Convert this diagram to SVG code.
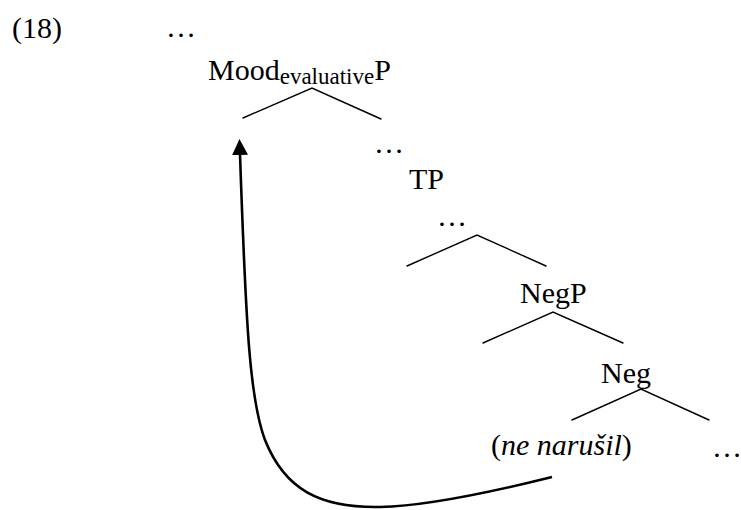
<svg xmlns="http://www.w3.org/2000/svg" width="741" height="510" viewBox="0 0 741 510">
<style>
text{font-family:"Liberation Serif","Times New Roman",serif;font-size:30px;fill:#000}
.br{stroke:#000;stroke-width:1.4;fill:none;stroke-linecap:round}
.mv{stroke:#000;stroke-width:2.6;fill:none}
</style>
<defs>
<marker id="ah" markerUnits="userSpaceOnUse" viewBox="0 0 16 16" refX="1" refY="8" markerWidth="16" markerHeight="16" orient="auto">
<path d="M0,0 L16,8 L0,16 z" fill="#000"/>
</marker>
</defs>
<rect width="741" height="510" fill="#fff"/>
<g id="label"><text x="12" y="38">(18)</text></g>
<g id="top-dots"><text x="166" y="37">…</text></g>
<g id="moodP"><text x="208" y="80">Mood<tspan font-size="23" dy="4">evaluative</tspan><tspan dy="-4">P</tspan></text></g>
<g id="dots1"><text x="374" y="153">…</text></g>
<g id="TP"><text x="409" y="189">TP</text></g>
<g id="dots2"><text x="437" y="226">…</text></g>
<g id="NegP"><text x="520" y="303">NegP</text></g>
<g id="Neg"><text x="601" y="383">Neg</text></g>
<g id="ne-narusil"><text x="491" y="455">(<tspan font-style="italic">ne narušil</tspan>)</text></g>
<g id="dots3"><text x="712" y="457">…</text></g>
<g id="connectors">
<path class="br" d="M243,118 L312,88 L381,119"/>
<path class="br" d="M407,266 L477,235 L546,266"/>
<path class="br" d="M483,343 L553,312 L623,343"/>
<path class="br" d="M572,420 L641,389 L709,420"/>
<path class="mv" marker-end="url(#ah)" d="M552,477 C500,490 430,506 380,507 C320,508 285,490 265,440 C250,400 246,330 240,154"/>
</g>
</svg>
